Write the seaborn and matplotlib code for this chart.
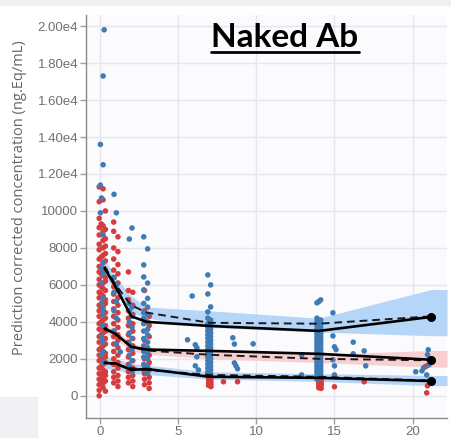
import pandas as pd
import seaborn as sns
import matplotlib.pyplot as plt
import matplotlib.ticker as ticker
from matplotlib.lines import Line2D
from matplotlib.patches import Rectangle

# observed points, one time per group (red = first group, blue = second)
red_times = [-0.05, 0.08, 0.2, 0.35, 0.88, 1.15, 1.82, 2.1, 2.85, 3.15,
             6.95, 7.1, 7.9, 8.8, 14.0, 14.15, 15.0, 16.9, 20.8, 20.9, 20.95]
red_conc = [
    [11300, 10500, 9600, 9100, 8700, 8200, 7900, 7400, 7000, 6700, 6300, 6000, 5600, 5300, 4900,
     4600, 4300, 3900, 3600, 3200, 2900, 2500, 2200, 1900, 1500, 1200, 900, 600, 300, 0],
    [9300, 7500, 6600, 5900, 5500, 4700, 4000, 3300, 2600, 2000, 1600, 1150, 750],
    [11200, 10600, 9200, 8900, 8400, 8000, 7600, 7200, 6900, 6500, 6100, 5800, 5400, 5100, 4800,
     4400, 4100, 3700, 3400, 3000, 2700, 2400, 2000, 1700, 1400, 1000, 700, 450],
    [10000, 9000, 8500, 8100, 7700, 7300, 6800, 6400, 6200, 5700, 5200, 5000, 4500, 4200, 3800,
     3500, 3100, 2800, 2300, 2100, 1800, 1300, 1100, 800, 250],
    [9400, 8900, 8000, 7400, 6800, 6400, 5900, 5500, 5100, 4700, 4300, 3900, 3500, 3200, 2800,
     2400, 2000, 1700, 1300, 1000, 700],
    [8600, 7800, 7100, 6600, 6100, 5700, 5300, 4900, 4500, 4100, 3700, 3300, 3000, 2600, 2200,
     1800, 1500, 1100, 800, 500],
    [6700, 5700, 5200, 4600, 4200, 3800, 3300, 2900, 2500, 2100, 1700, 1300, 1000, 700],
    [5600, 4900, 4400, 3900, 3500, 3100, 2700, 2300, 1900, 1500, 1100, 800, 500],
    [5700, 4600, 4100, 3000, 2500, 2000, 1600, 1200, 900, 600],
    [4300, 3800, 3200, 2200, 1800, 1400, 1000, 700, 400],
    [1000, 850, 700, 560],
    [950, 780, 640, 500],
    [760],
    [760],
    [5100, 900, 780, 650, 520, 430],
    [850, 700, 580, 400],
    [490],
    [760],
    [1570],
    [1620, 160],
    [540],
]

blue_times = [0.27, 0.2, 0.03, 0.1, 0.9, 1.05, 1.3, 1.88, 2.05, 2.8, 3.05,
              5.6, 5.9, 6.1, 6.2, 6.3, 6.9, 7.08, 8.5, 8.6, 8.7, 8.8, 9.8,
              12.9, 13.88, 14.12, 14.9, 15.0, 15.1, 16.2, 16.9, 17.0,
              20.2, 20.6, 20.7, 20.9, 20.95, 21.0, 21.05, 21.1]
blue_conc = [
    [19800],
    [17300, 12500, 8700, 7200, 6600, 5300, 4700, 4400, 3800, 2900, 2400, 1800],
    [13600, 11400, 9900],
    [10700, 6900, 6100, 5000, 3200, 2200],
    [10900, 6400, 5600, 4600, 3500],
    [9900, 6000, 5100, 4200, 2800],
    [2380],
    [8480, 5000, 4600, 4000, 3400, 2800, 2200, 1600],
    [9080, 4800, 4300, 3700, 3100, 2500, 1900, 1300],
    [8600, 7080, 6430, 5730, 5000, 4500, 4200, 3900, 3500, 3100, 2700, 2400, 2100, 1700, 1400],
    [7950, 6100, 5270, 4800, 4400, 4000, 3600, 3300, 2900, 2600, 2300, 2000, 1600, 1200],
    [3030],
    [5400],
    [2760, 1620],
    [2600, 2110],
    [1400],
    [6540, 5510, 4540, 4200, 3900, 3700, 3500, 3300, 3100, 2900, 2700, 2500, 2300, 2100, 1900,
     1700, 1500, 1300, 1100],
    [6000, 4810, 4100, 3800, 3600, 3400, 3200, 3000, 2800, 2600, 2400, 2200, 2000, 1800, 1600,
     1400, 1200],
    [3140],
    [2800, 1780],
    [1620],
    [1460],
    [2810],
    [2200, 1130],
    [5030, 4200, 4000, 3800, 3600, 3450, 3300, 3150, 3000, 2850, 2700, 2550, 2400, 2250, 2100,
     1950, 1800, 1650, 1500, 1350, 1200, 1050, 900],
    [5190, 4100, 3900, 3700, 3520, 3380, 3220, 3080, 2920, 2780, 2620, 2480, 2320, 2180, 2020,
     1880, 1720, 1580, 1420, 1280, 1120, 980],
    [4490, 3240, 1950],
    [2650, 1620, 1130],
    [2500],
    [2900, 2270],
    [2430],
    [1620],
    [1300],
    [1350],
    [1510],
    [1130],
    [2220],
    [2490],
    [1680],
    [2000, 4220],
]

# binned percentiles: observed (solid), simulated median (dashed), simulated CI (bands)
bin_time = [0.3, 1, 2, 3, 7, 14, 21.2]
obs_hi = [6900, 5900, 4300, 4000, 3780, 3510, 4270]
sim_hi = [7000, 6000, 4900, 4500, 3950, 3900, 4300]
ci_hi_lo = [6500, 5600, 4500, 4200, 3700, 3450, 3250]
ci_hi_up = [7400, 6400, 5400, 4800, 4600, 4200, 5750]

obs_mid = [3620, 3350, 2650, 2500, 2430, 2270, 1950]
sim_mid = [3700, 3300, 2650, 2450, 2220, 2000, 1920]
ci_mid_lo = [3400, 3050, 2450, 2250, 2000, 1800, 1550]
ci_mid_up = [3900, 3550, 2850, 2650, 2450, 2250, 2450]

obs_lo = [1780, 1750, 1400, 1450, 1030, 970, 800]
sim_lo = [1800, 1700, 1500, 1400, 1130, 1030, 820]
ci_lo_lo = [1500, 1400, 1200, 1150, 900, 780, 550]
ci_lo_up = [2100, 2000, 1750, 1650, 1300, 1200, 1100]

x_ticks = [0, 5, 10, 15, 20]
y_ticks = [0, 2000, 4000, 6000, 8000, 10000, 12000, 14000, 16000, 18000, 20000]

rows = []
for group, times, concs in [('red', red_times, red_conc), ('blue', blue_times, blue_conc)]:
    for t, vals in zip(times, concs):
        for v in vals:
            rows.append({'time': t, 'conc': v, 'group': group})
df = pd.DataFrame(rows)


def format_tick(value, _):
    if value > 10000:
        return '{:.2f}e4'.format(value / 1e4)
    return '{:.0f}'.format(value)


sns.set_style('whitegrid')
plt.rcParams['font.family'] = ['Liberation Sans', 'DejaVu Sans']

fig = plt.figure(figsize=(4.52, 4.38), dpi=100, facecolor='white')
ax = fig.add_axes([0.190, 0.0457, 0.799, 0.920])
ax.set_facecolor('#fbfbfe')

xmax = 22.2
for lo, up, col in [(ci_hi_lo, ci_hi_up, '#b5d6f8'), (ci_mid_lo, ci_mid_up, '#f8cfd0'),
                    (ci_lo_lo, ci_lo_up, '#b5d6f8')]:
    ax.fill_between(bin_time + [xmax], lo + [lo[-1]], up + [up[-1]], color=col,
                    linewidth=0, zorder=1)

sns.scatterplot(data=df, x='time', y='conc', hue='group',
                palette={'red': '#d63c3c', 'blue': '#3f7cb6'},
                s=16, linewidth=0, legend=False, ax=ax, zorder=2)

for sim in [sim_hi, sim_mid, sim_lo]:
    ax.plot(bin_time, sim, color='#1a1a1a', lw=1.4, ls=(0, (4, 2.5)), zorder=3)
for obs in [obs_hi, obs_mid, obs_lo]:
    ax.plot(bin_time, obs, color='black', lw=1.9, zorder=4)
ax.plot([bin_time[-1]] * 3, [obs_hi[-1], obs_mid[-1], obs_lo[-1]], 'o',
        color='black', ms=5.5, zorder=5)

ax.set_xlim(-0.9, xmax)
ax.set_ylim(-1200, 20600)
ax.set_xticks(x_ticks)
ax.set_yticks(y_ticks)
ax.yaxis.set_major_formatter(ticker.FuncFormatter(format_tick))
ax.grid(True, color='#e6e6ec', lw=1)
ax.tick_params(axis='both', labelsize=9.5, labelcolor='#707070', color='#a0a0a0',
               length=4, width=1, pad=1.5, left=True, bottom=True)
ax.set_xlabel('')
ax.set_ylabel('Prediction corrected concentration (ng.Eq/mL)', fontsize=10.5,
              color='#666666', family=['Open Sans', 'DejaVu Sans'])
ax.yaxis.set_label_coords(-0.183, 0.546)
ax.yaxis.label.set_verticalalignment('center')
for side in ['top', 'right']:
    ax.spines[side].set_visible(False)
for side in ['left', 'bottom']:
    ax.spines[side].set_color('#8a8a8a')
    ax.spines[side].set_linewidth(1)

title = fig.text(285 / 452, 1 - 47 / 438, 'Naked Ab', ha='center', va='baseline',
                 fontsize=24, fontweight='bold', color='black',
                 family=['Lato', 'DejaVu Sans'])

# screenshot borders
fig.patches.append(Rectangle((0, 0), 37 / 452, 41 / 438, transform=fig.transFigure,
                             color='#f0f0f4', zorder=0))
fig.patches.append(Rectangle((0, 1 - 5 / 438), 1, 5 / 438, transform=fig.transFigure,
                             color='#f0f0f4', zorder=0))

fig.canvas.draw()
bb = title.get_window_extent(fig.canvas.get_renderer())
y_line = 438 - 52
fig.add_artist(Line2D([bb.x0, bb.x1], [y_line, y_line], transform=None,
                      color='black', lw=2))

fig.savefig('out.png', dpi=100, facecolor=fig.get_facecolor())
